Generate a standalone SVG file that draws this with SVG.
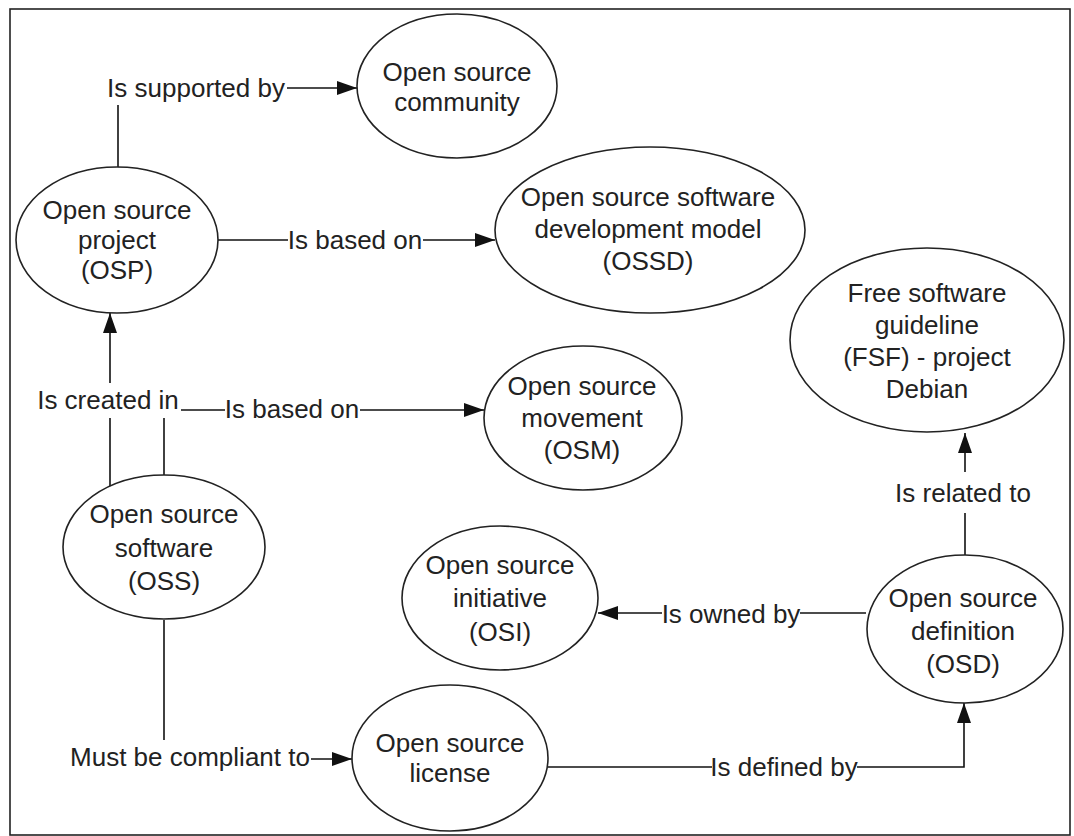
<svg xmlns="http://www.w3.org/2000/svg" width="1074" height="836" viewBox="0 0 1074 836">
<style>
.n ellipse{fill:#fff;stroke:#222;stroke-width:1.6}
text{font-family:"Liberation Sans",Arial,sans-serif;font-size:26px;fill:#222;text-anchor:middle}
.c path{fill:none;stroke:#111;stroke-width:1.6}
</style>
<defs>
<marker id="ah" markerUnits="userSpaceOnUse" markerWidth="22" markerHeight="14" refX="20" refY="7" orient="auto">
<path d="M0,0 L20,7 L0,14 Z" fill="#111"/>
</marker>
</defs>
<rect x="0" y="0" width="1074" height="836" fill="#fff"/>
<rect x="10" y="9" width="1060" height="826" fill="none" stroke="#222" stroke-width="1.6"/>
<g class="c" id="connectors">
<path d="M118,168 V105"/>
<path d="M287,88 H357" marker-end="url(#ah)"/>
<path d="M218,240 H288"/>
<path d="M423,240 H495" marker-end="url(#ah)"/>
<path d="M110,487 V418"/>
<path d="M110,383 V313" marker-end="url(#ah)"/>
<path d="M164,475 V418"/>
<path d="M181,410 H225"/>
<path d="M360,410 H484" marker-end="url(#ah)"/>
<path d="M164,620 V740"/>
<path d="M311,759 H352" marker-end="url(#ah)"/>
<path d="M548,767 H712"/>
<path d="M857,767 H964 V703" marker-end="url(#ah)"/>
<path d="M866,613 H800"/>
<path d="M662,613 H598" marker-end="url(#ah)"/>
<path d="M965,555 V513"/>
<path d="M965,472 V433" marker-end="url(#ah)"/>
</g>
<g id="labels">
<text x="196" y="97">Is supported by</text>
<text x="355" y="249">Is based on</text>
<text x="108" y="409">Is created in</text>
<text x="292" y="418">Is based on</text>
<text x="190" y="766">Must be compliant to</text>
<text x="784" y="776">Is defined by</text>
<text x="731" y="623">Is owned by</text>
<text x="963" y="502">Is related to</text>
</g>
<g class="n" id="community"><ellipse cx="457" cy="86" rx="100" ry="72"/><text x="457" y="81">Open source</text><text x="457" y="111">community</text></g>
<g class="n" id="osp"><ellipse cx="117" cy="240" rx="101" ry="73"/><text x="117" y="219">Open source</text><text x="117" y="249">project</text><text x="117" y="279">(OSP)</text></g>
<g class="n" id="ossd"><ellipse cx="650" cy="230" rx="155" ry="83"/><text x="648" y="206">Open source software</text><text x="648" y="238">development model</text><text x="648" y="270">(OSSD)</text></g>
<g class="n" id="osm"><ellipse cx="583" cy="418" rx="99" ry="72"/><text x="582" y="395">Open source</text><text x="582" y="427">movement</text><text x="582" y="459">(OSM)</text></g>
<g class="n" id="fsf"><ellipse cx="927" cy="340" rx="137" ry="92"/><text x="927" y="302">Free software</text><text x="927" y="334">guideline</text><text x="927" y="366">(FSF) - project</text><text x="927" y="398">Debian</text></g>
<g class="n" id="oss"><ellipse cx="164" cy="547" rx="101" ry="72"/><text x="164" y="523">Open source</text><text x="164" y="557">software</text><text x="164" y="590">(OSS)</text></g>
<g class="n" id="osi"><ellipse cx="500" cy="598" rx="98" ry="72"/><text x="500" y="574">Open source</text><text x="500" y="607">initiative</text><text x="500" y="641">(OSI)</text></g>
<g class="n" id="osd"><ellipse cx="965" cy="629" rx="98" ry="74"/><text x="963" y="607">Open source</text><text x="963" y="640">definition</text><text x="963" y="673">(OSD)</text></g>
<g class="n" id="license"><ellipse cx="450" cy="758" rx="98" ry="73"/><text x="450" y="752">Open source</text><text x="450" y="782">license</text></g>
</svg>
